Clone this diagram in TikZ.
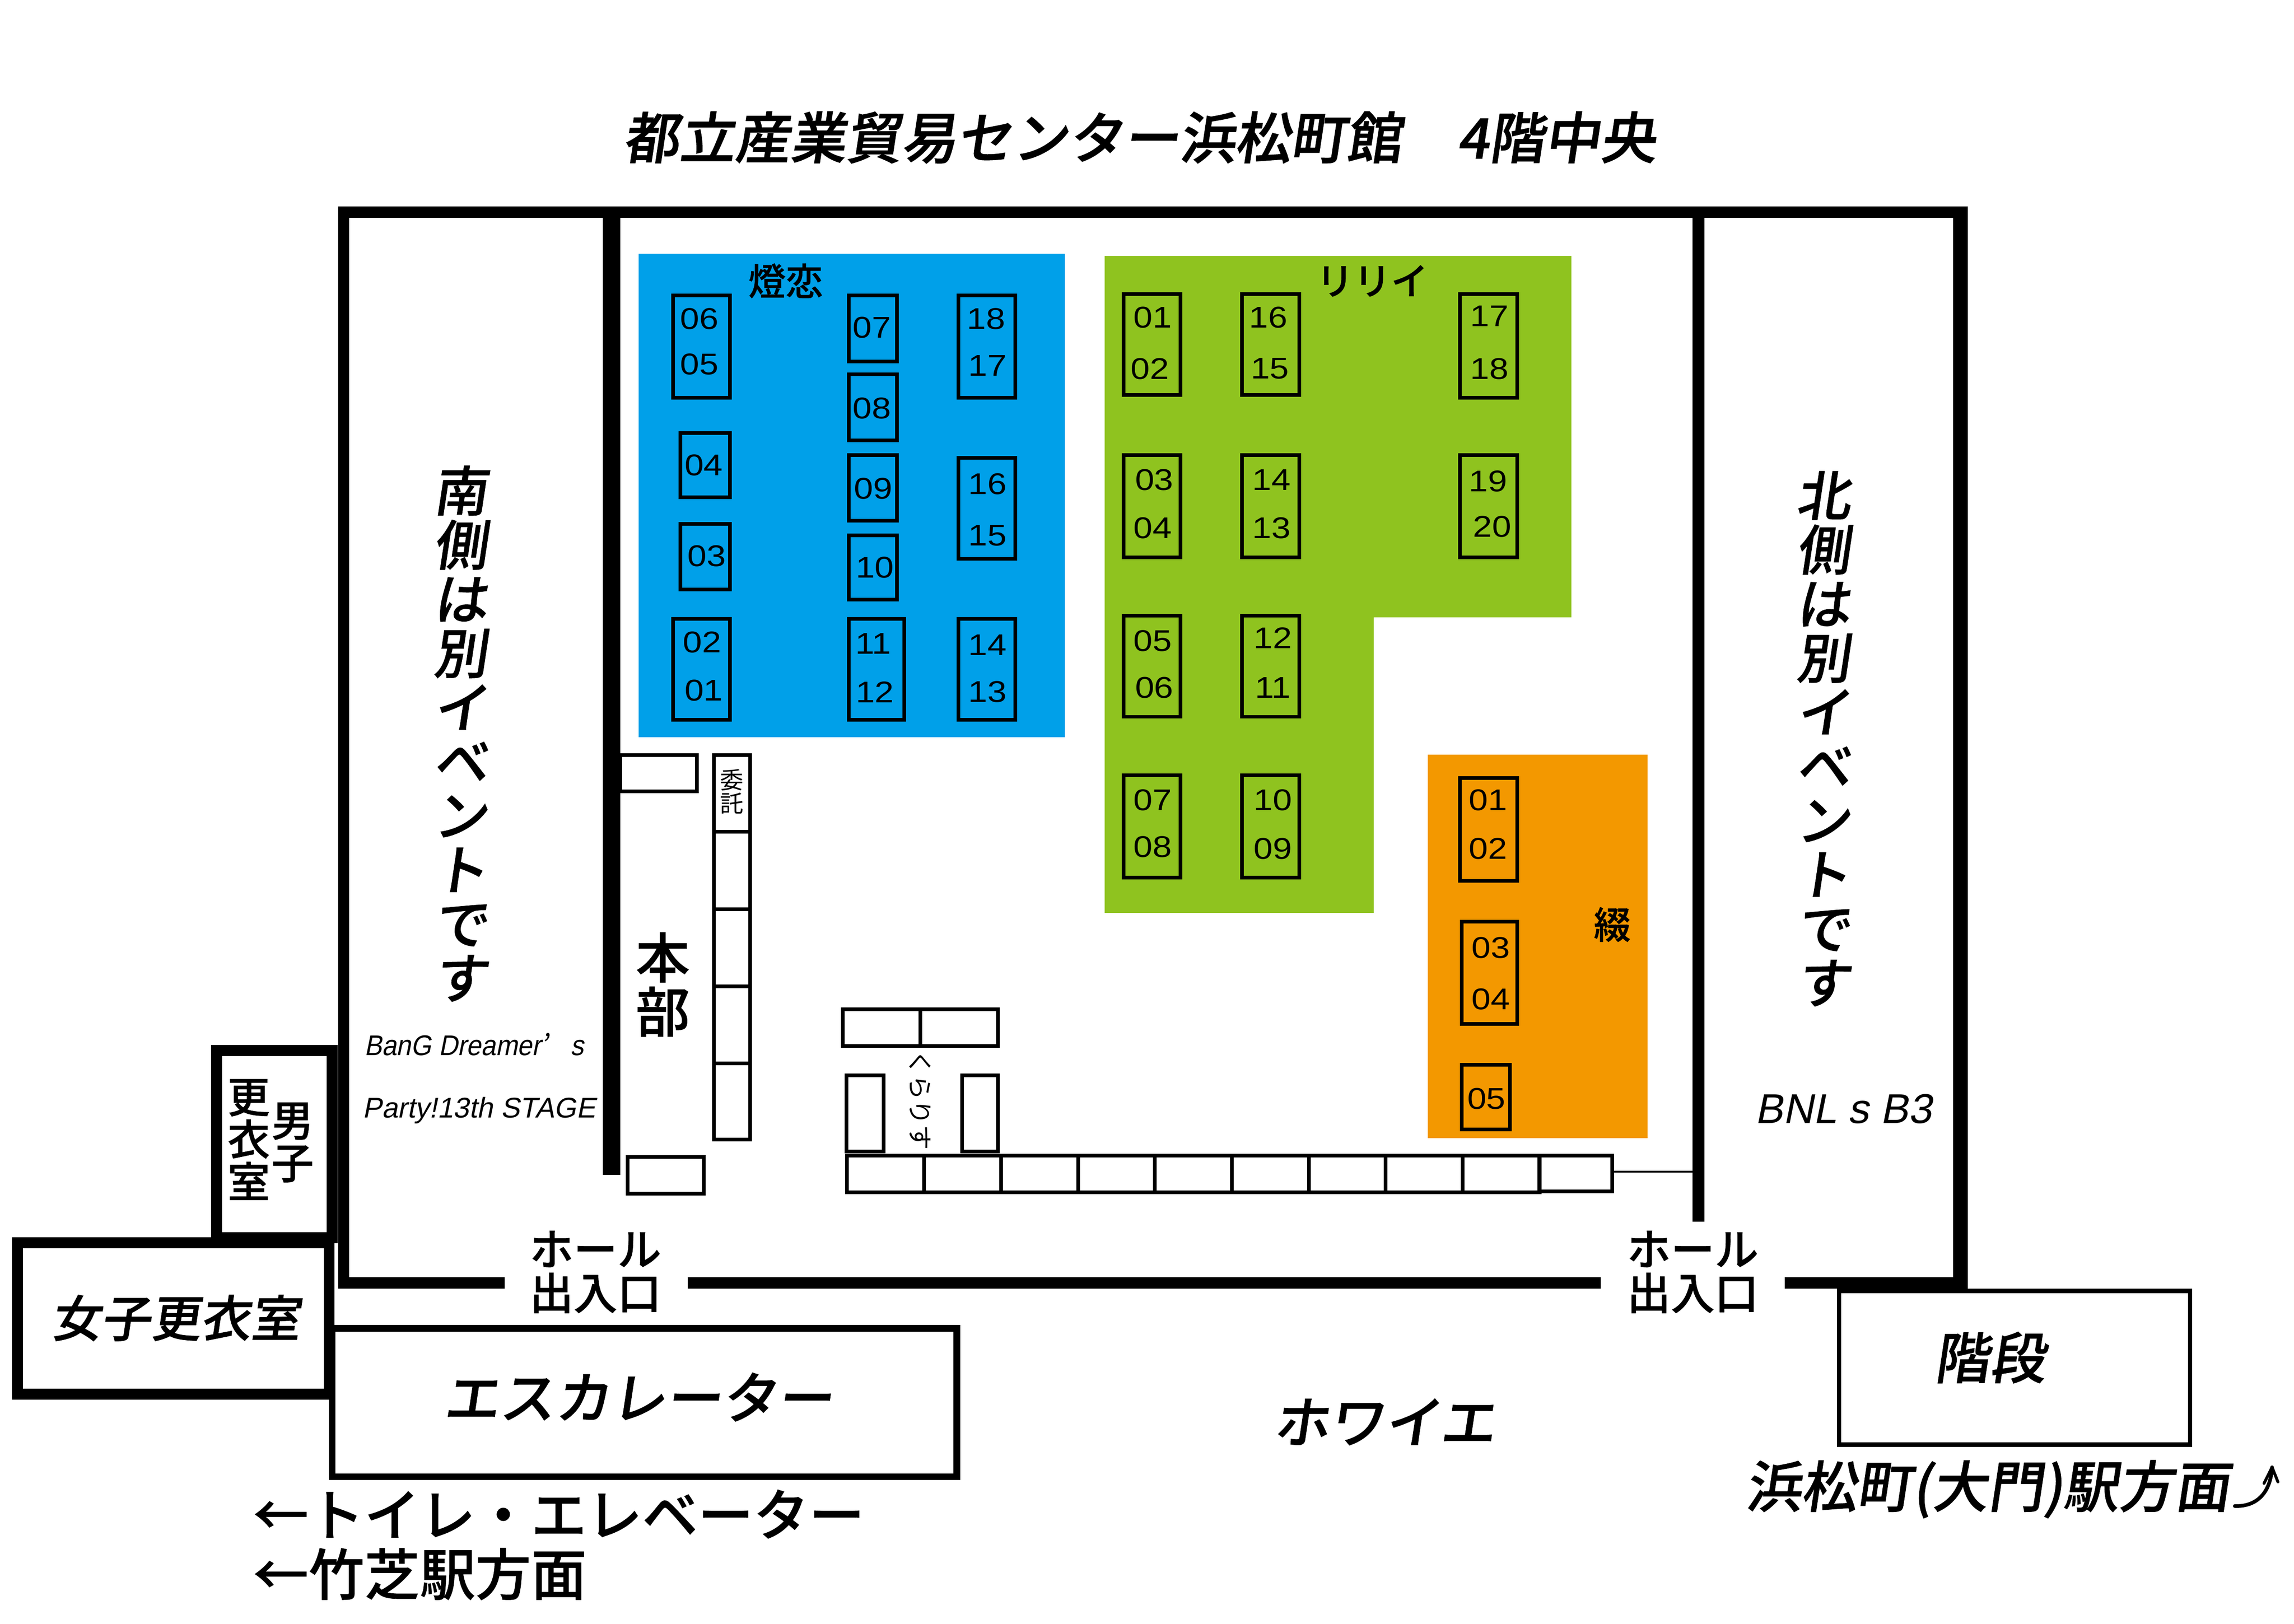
\documentclass[tikz,border=0pt]{standalone}
\usepackage{fontspec}
\newfontfamily\jpr{Noto Sans CJK JP}
\newfontfamily\jp[FakeBold=0.7]{Noto Sans CJK JP Medium}
\newfontfamily\jpi[FakeSlant=0.15,FakeBold=0.7]{Noto Sans CJK JP Medium}
\newfontfamily\jpt[FakeSlant=0.15,FakeBold=1.2]{Noto Sans CJK JP Medium}
\newfontfamily\jpq[FakeSlant=0.15]{Noto Sans CJK JP}
\newfontfamily\numfont[FakeStretch=1.15]{Liberation Sans}
\newfontfamily\latinit[FakeSlant=0.2]{Liberation Sans}
\newfontfamily\latinn[FakeSlant=0.2,FakeStretch=0.92]{Liberation Sans}
\newcommand\sz[1]{\fontsize{#1}{#1}\selectfont}
\lineskiplimit=-1000pt
\definecolor{hallblue}{HTML}{00A0E9}
\definecolor{hallgreen}{HTML}{8FC31F}
\definecolor{hallorange}{HTML}{F39800}
\tikzset{
  wall/.style={draw=black,line cap=butt},
  booth/.style={draw=black,line width=2.5pt},
  tx/.style={inner sep=0pt,outer sep=0pt,text=black},
  num/.style={tx,font=\numfont\sz{20.5}},
  zone/.style={tx,font=\jp\sz{25.5}},
  slant/.style={tx,font=\jpi\sz{#1}},
  plain/.style={tx,font=\jp\sz{#1}}
}
\newcommand\bx[4]{\draw[booth] (#1,#2) rectangle (#3,#4);}
\newcommand\lb[3]{\node[num] at (#1,#2) {#3};}
\begin{document}
\begin{tikzpicture}[x=1pt,y=-1pt]
\useasboundingbox (0,0) rectangle (1568,1110);
% zones
\fill[hallblue] (436.5,173.5) rectangle (728,504);
\fill[hallgreen] (755,175) -- (1074,175) -- (1074,422) -- (939,422) -- (939,624) -- (755,624) -- cycle;
\fill[hallorange] (976,516) rectangle (1126,778);
% walls
\draw[wall,line width=7.5pt] (235,145) -- (235,881);
\draw[wall,line width=8pt] (231,145) -- (1345,145);
\draw[wall,line width=10pt] (1340,141) -- (1340,881);
\draw[wall,line width=8pt] (231,877) -- (345,877);
\draw[wall,line width=8pt] (470,877) -- (1094,877);
\draw[wall,line width=8pt] (1220,877) -- (1345,877);
\draw[wall,line width=12pt] (418,145) -- (418,803);
\draw[wall,line width=8pt] (1161,145) -- (1161,835);
% rooms
\draw[line width=7.5pt] (148,846) -- (148,718) -- (227,718) -- (227,846) -- cycle;
\draw[line width=7.5pt,fill=white] (12,849.5) rectangle (225,953);
\draw[line width=4.5pt] (227,908) rectangle (654,1009.5);
\draw[line width=3pt] (1257,882.5) rectangle (1497,987.5);
% blue booths
\bx{460}{202}{499}{272}\lb{478}{218}{06}\lb{478}{249}{05}
\bx{465}{296}{499}{340}\lb{481}{318}{04}
\bx{465}{358}{499}{403}\lb{483}{380}{03}
\bx{460}{423}{499}{492}\lb{480}{439}{02}\lb{481}{472}{01}
\bx{580}{202}{613}{247}\lb{596}{224}{07}
\bx{580}{256}{613}{301}\lb{596}{279}{08}
\bx{580}{311}{613}{356}\lb{597}{334}{09}
\bx{580}{366}{613}{410}\lb{598}{388}{10}
\bx{580}{423}{618}{492}\lb{597}{440}{11}\lb{598}{473}{12}
\bx{655}{202}{694}{272}\lb{674}{218}{18}\lb{675}{250}{17}
\bx{655}{313}{694}{382}\lb{675}{331}{16}\lb{675}{366}{15}
\bx{655}{423}{694}{492}\lb{675}{441}{14}\lb{675}{473}{13}
\node[zone] (touren) at (537,192) {燈恋};
% green booths
\bx{768}{201}{807}{270}\lb{788}{217}{01}\lb{786}{252}{02}
\bx{849}{201}{888}{270}\lb{867}{217}{16}\lb{868}{252}{15}
\bx{998}{201}{1037}{272}\lb{1018}{216}{17}\lb{1018}{252}{18}
\bx{768}{311}{807}{381}\lb{789}{328}{03}\lb{788}{361}{04}
\bx{849}{311}{888}{381}\lb{869}{328}{14}\lb{869}{361}{13}
\bx{998}{311}{1037}{381}\lb{1017}{329}{19}\lb{1020}{360}{20}
\bx{768}{421}{807}{490}\lb{788}{438}{05}\lb{789}{470}{06}
\bx{849}{421}{888}{490}\lb{870}{436}{12}\lb{870}{470}{11}
\bx{768}{530}{807}{600}\lb{788}{547}{07}\lb{788}{579}{08}
\bx{849}{530}{888}{600}\lb{870}{547}{10}\lb{870}{580}{09}
\node[zone] (ririi) at (938,192) {リリイ};
% orange booths
\bx{998}{532}{1037}{602}\lb{1017}{547}{01}\lb{1017}{580}{02}
\bx{999}{630}{1037}{700}\lb{1019}{648}{03}\lb{1019}{683}{04}
\bx{999}{728}{1032}{772}\lb{1016}{751}{05}
\node[zone] (tsuzuri) at (1102,632) {綴};
% staff area
\bx{424}{516.3}{476.2}{541}
\bx{488}{516.3}{512.7}{568.7}
\bx{488}{568.7}{512.7}{621.5}
\bx{488}{621.5}{512.7}{674.2}
\bx{488}{674.2}{512.7}{727}
\bx{488}{727}{512.7}{779}
\bx{429}{791}{481}{816}
\node[tx,font=\jpr\sz{16},align=center] (itaku) at (500.3,541) {委\\託};
\node[plain=37,align=center] (honbu) at (453,673) {本\\部};
% kurarisu
\bx{576}{690}{629}{715}
\bx{629}{690}{682}{715}
\bx{578.5}{735}{604}{787}
\bx{657.5}{735}{682}{787}
\node[tx,font=\jpr\sz{17},rotate=-90] (kurarisu) at (629,752) {くらりす};
% long row
\foreach \i in {0,...,8}{
  \pgfmathsetmacro\xa{579+52.6*\i}
  \pgfmathsetmacro\xb{579+52.6*(\i+1)}
  \bx{\xa}{790}{\xb}{815}
}
\bx{1052}{790}{1102}{814.5}
\coordinate (rowend) at (1102,801);
\coordinate (wallpt) at (1161,801);
\draw[line width=1.3pt] (rowend) -- (wallpt);
% texts
\node[tx,font=\jpt\sz{38},anchor=west] (title) at (426,94) {都立産業貿易センター浜松町館　4階中央};
\node[slant=37,align=center] (south) at (314.5,501.5) {南\\側\\は\\別\\イ\\ベ\\ン\\ト\\で\\す};
\node[slant=37,align=center] (north) at (1246,505) {北\\側\\は\\別\\イ\\ベ\\ン\\ト\\で\\す};
\node[tx,font=\latinn\sz{19.5},anchor=west] (bang) at (249,714) {BanG Dreamer{\jpq ’}\hspace{15pt}s};
\node[tx,font=\latinit\sz{19.5},anchor=west] (party) at (248,759) {Party!13th STAGE};
\node[tx,font=\latinit\sz{28.5}] (bnl) at (1260,758) {BNL s B3};
\node[plain=29,align=center] (male) at (200,781) {男\\子};
\node[plain=29,align=center] (maleb) at (170,779) {更\\衣\\室};
\node[slant=34] (female) at (120,901) {女子更衣室};
\node[slant=38] (esc) at (436,955) {エスカレーター};
\node[plain=30,align=center] (door1) at (407,869.5) {ホール\\出入口};
\node[plain=30,align=center] (door2) at (1157,869.5) {ホール\\出入口};
\node[slant=38] (foyer) at (946,972) {ホワイエ};
\node[slant=38] (stairs) at (1360,928) {階段};
\node[slant=38,anchor=west] (hama) at (1193,1018) {浜松町(大門)駅方面};
\coordinate (hamaA) at (1527.5,1029.5);
\coordinate (hamaB) at (1553,1003);
\draw[line width=2.5pt,line cap=round,line join=round] (hamaA) .. controls (1543,1030) and (1552,1020) .. (hamaB);
\draw[line width=2pt,line cap=round,line join=round] (1547.5,1014) -- (hamaB) -- (1557,1013);
\node[plain=38,anchor=west] (toilet) at (173,1035) {←トイレ・エレベーター};
\node[plain=38,anchor=west] (take) at (173,1076) {←竹芝駅方面};
\end{tikzpicture}
\end{document}
